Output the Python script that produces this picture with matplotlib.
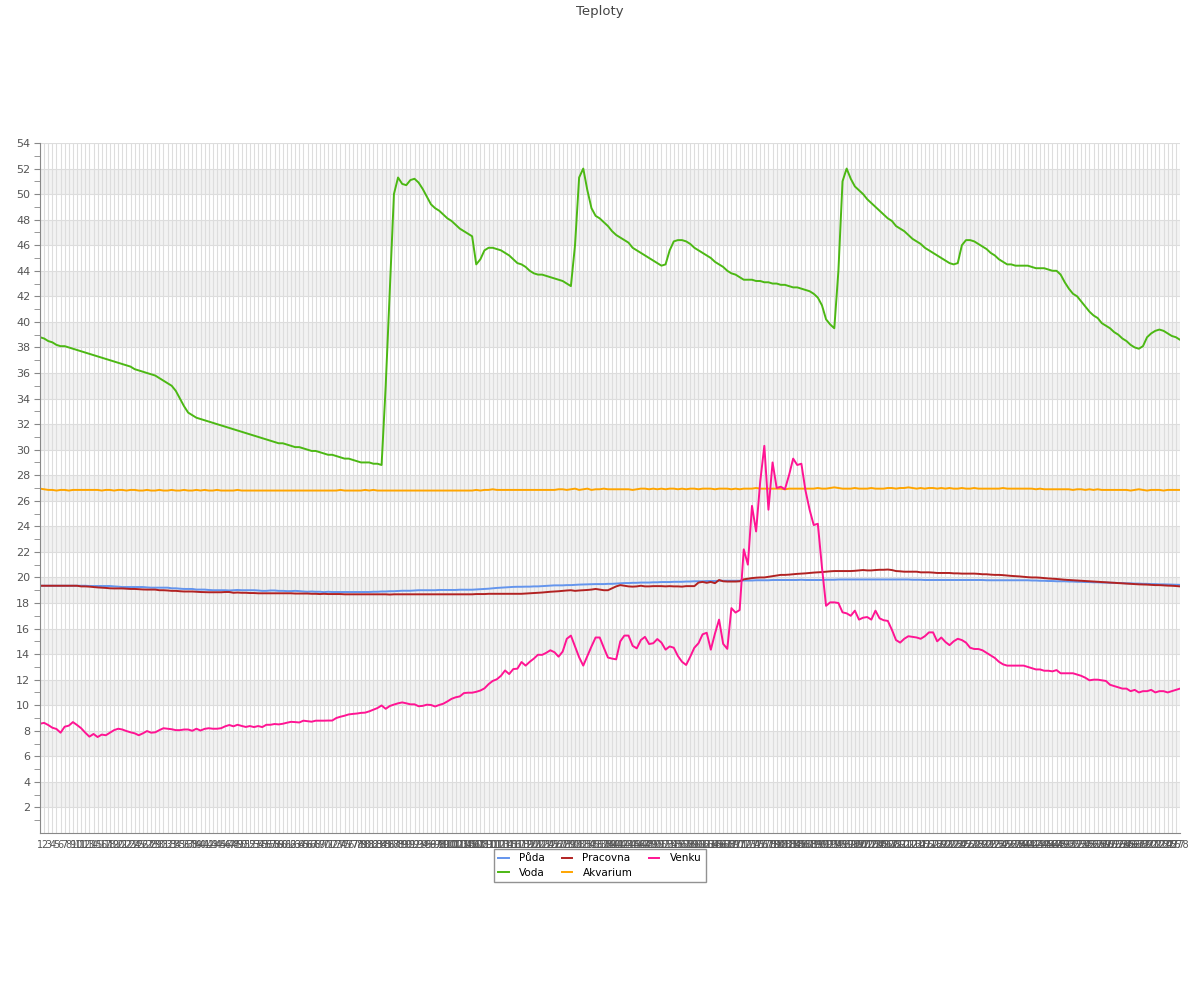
import matplotlib.pyplot as plt
import numpy as np

# labels on the x axis (one per reading)
labels = [str(i) for i in range(1, 279)]

puda = [
    19.35, 19.35, 19.35, 19.35, 19.35, 19.35, 19.35, 19.35, 19.35, 19.35,
    19.35, 19.35, 19.33, 19.33, 19.33, 19.33, 19.33, 19.33, 19.3, 19.28,
    19.25, 19.25, 19.25, 19.25, 19.25, 19.25, 19.22, 19.2, 19.2, 19.2,
    19.2, 19.2, 19.15, 19.15, 19.12, 19.1, 19.1, 19.1, 19.05, 19.05,
    19.05, 19.02, 19.0, 19.0, 19.0, 19.0, 18.98, 19.0, 19.02, 19.0,
    19.0, 19.0, 19.0, 18.98, 18.95, 18.95, 18.98, 18.98, 18.95, 18.95,
    18.93, 18.93, 18.95, 18.93, 18.9, 18.88, 18.9, 18.88, 18.88, 18.85,
    18.88, 18.86, 18.86, 18.86, 18.86, 18.86, 18.86, 18.86, 18.86, 18.86,
    18.86, 18.88, 18.88, 18.9, 18.9, 18.92, 18.92, 18.94, 18.96, 18.96,
    18.96, 18.98, 19.0, 19.0, 19.0, 19.0, 19.0, 19.02, 19.02, 19.02,
    19.02, 19.02, 19.04, 19.04, 19.04, 19.04, 19.06, 19.08, 19.1, 19.12,
    19.15, 19.18, 19.2, 19.22, 19.24, 19.26, 19.27, 19.27, 19.28, 19.28,
    19.3, 19.3, 19.32, 19.34, 19.36, 19.38, 19.38, 19.38, 19.4, 19.4,
    19.42, 19.44, 19.45, 19.46, 19.47, 19.48, 19.48, 19.48, 19.5, 19.5,
    19.52, 19.54, 19.56, 19.56, 19.58, 19.58, 19.6, 19.6, 19.6, 19.62,
    19.62, 19.64, 19.64, 19.64, 19.66, 19.66, 19.66, 19.68, 19.68, 19.7,
    19.7, 19.7, 19.72, 19.72, 19.72, 19.74, 19.74, 19.74, 19.74, 19.74,
    19.74, 19.76, 19.76, 19.76, 19.78, 19.78, 19.78, 19.78, 19.8, 19.8,
    19.8, 19.8, 19.8, 19.8, 19.8, 19.82, 19.8, 19.8, 19.8, 19.8,
    19.8, 19.82, 19.82, 19.82, 19.84, 19.84, 19.84, 19.84, 19.84, 19.84,
    19.84, 19.84, 19.84, 19.84, 19.84, 19.84, 19.84, 19.84, 19.84, 19.84,
    19.84, 19.84, 19.82, 19.82, 19.82, 19.8, 19.8, 19.8, 19.8, 19.8,
    19.8, 19.8, 19.8, 19.8, 19.8, 19.8, 19.8, 19.8, 19.8, 19.8,
    19.78, 19.78, 19.78, 19.78, 19.78, 19.78, 19.78, 19.78, 19.78, 19.78,
    19.78, 19.76, 19.76, 19.74, 19.74, 19.72, 19.72, 19.7, 19.7, 19.7,
    19.68, 19.68, 19.66, 19.66, 19.64, 19.64, 19.62, 19.62, 19.6, 19.6,
    19.58, 19.58, 19.56, 19.56, 19.54, 19.54, 19.52, 19.52, 19.5, 19.5,
    19.48, 19.48, 19.46, 19.46, 19.45, 19.44, 19.43, 19.42,
]

voda = [
    38.8, 38.7, 38.5, 38.4, 38.2, 38.1, 38.1, 38.0, 37.9, 37.8,
    37.7, 37.6, 37.5, 37.4, 37.3, 37.2, 37.1, 37.0, 36.9, 36.8,
    36.7, 36.6, 36.5, 36.3, 36.2, 36.1, 36.0, 35.9, 35.8, 35.6,
    35.4, 35.2, 35.0, 34.6, 34.0, 33.4, 32.9, 32.7, 32.5, 32.4,
    32.3, 32.2, 32.1, 32.0, 31.9, 31.8, 31.7, 31.6, 31.5, 31.4,
    31.3, 31.2, 31.1, 31.0, 30.9, 30.8, 30.7, 30.6, 30.5, 30.5,
    30.4, 30.3, 30.2, 30.2, 30.1, 30.0, 29.9, 29.9, 29.8, 29.7,
    29.6, 29.6, 29.5, 29.4, 29.3, 29.3, 29.2, 29.1, 29.0, 29.0,
    29.0, 28.9, 28.9, 28.8, 35.0, 42.5, 50.0, 51.3, 50.8, 50.7,
    51.1, 51.2, 50.9, 50.4, 49.8, 49.2, 48.9, 48.7, 48.4, 48.1,
    47.9, 47.6, 47.3, 47.1, 46.9, 46.7, 44.5, 44.9, 45.6, 45.8,
    45.8, 45.7, 45.6, 45.4, 45.2, 44.9, 44.6, 44.5, 44.3, 44.0,
    43.8, 43.7, 43.7, 43.6, 43.5, 43.4, 43.3, 43.2, 43.0, 42.8,
    46.0, 51.3, 52.0, 50.3, 48.9, 48.3, 48.1, 47.8, 47.5, 47.1,
    46.8, 46.6, 46.4, 46.2, 45.8, 45.6, 45.4, 45.2, 45.0, 44.8,
    44.6, 44.4, 44.5, 45.6, 46.3, 46.4, 46.4, 46.3, 46.1, 45.8,
    45.6, 45.4, 45.2, 45.0, 44.7, 44.5, 44.3, 44.0, 43.8, 43.7,
    43.5, 43.3, 43.3, 43.3, 43.2, 43.2, 43.1, 43.1, 43.0, 43.0,
    42.9, 42.9, 42.8, 42.7, 42.7, 42.6, 42.5, 42.4, 42.2, 41.9,
    41.3, 40.2, 39.8, 39.5, 44.0, 51.0, 52.0, 51.2, 50.6, 50.3,
    50.0, 49.6, 49.3, 49.0, 48.7, 48.4, 48.1, 47.9, 47.5, 47.3,
    47.1, 46.8, 46.5, 46.3, 46.1, 45.8, 45.6, 45.4, 45.2, 45.0,
    44.8, 44.6, 44.5, 44.6, 46.0, 46.4, 46.4, 46.3, 46.1, 45.9,
    45.7, 45.4, 45.2, 44.9, 44.7, 44.5, 44.5, 44.4, 44.4, 44.4,
    44.4, 44.3, 44.2, 44.2, 44.2, 44.1, 44.0, 44.0, 43.7, 43.1,
    42.6, 42.2, 42.0, 41.6, 41.2, 40.8, 40.5, 40.3, 39.9, 39.7,
    39.5, 39.2, 39.0, 38.7, 38.5, 38.2, 38.0, 37.9, 38.1, 38.8,
    39.1, 39.3, 39.4, 39.3, 39.1, 38.9, 38.8, 38.6,
]

pracovna = [
    19.35, 19.35, 19.35, 19.35, 19.35, 19.35, 19.35, 19.35, 19.35, 19.35,
    19.3, 19.3, 19.28, 19.25, 19.22, 19.2, 19.18, 19.15, 19.14, 19.14,
    19.14, 19.12, 19.1, 19.1, 19.08, 19.06, 19.05, 19.05, 19.05, 19.0,
    19.0, 18.98, 18.95, 18.95, 18.92, 18.9, 18.9, 18.9, 18.88, 18.86,
    18.85, 18.84, 18.84, 18.84, 18.84, 18.86, 18.86, 18.8, 18.82, 18.8,
    18.8, 18.78, 18.78, 18.76, 18.76, 18.76, 18.76, 18.76, 18.76, 18.76,
    18.76, 18.76, 18.74, 18.74, 18.74, 18.74, 18.72, 18.72, 18.7, 18.72,
    18.7, 18.7, 18.7, 18.7, 18.68, 18.68, 18.68, 18.68, 18.68, 18.68,
    18.68, 18.68, 18.68, 18.68, 18.68, 18.66, 18.68, 18.68, 18.68, 18.68,
    18.68, 18.68, 18.68, 18.68, 18.68, 18.68, 18.68, 18.68, 18.68, 18.68,
    18.68, 18.68, 18.68, 18.68, 18.68, 18.68, 18.7, 18.7, 18.7, 18.72,
    18.72, 18.72, 18.72, 18.72, 18.72, 18.72, 18.72, 18.72, 18.74, 18.76,
    18.78, 18.8, 18.82, 18.85, 18.88, 18.9, 18.92, 18.95, 18.98, 19.0,
    18.95, 18.98, 19.0, 19.02, 19.05, 19.1, 19.05, 19.0, 19.0, 19.15,
    19.3, 19.4, 19.35, 19.3, 19.28, 19.3, 19.35, 19.3, 19.3, 19.32,
    19.32, 19.32, 19.3, 19.32, 19.3, 19.3, 19.28, 19.32, 19.32, 19.32,
    19.6, 19.65, 19.58, 19.65, 19.55, 19.8, 19.7, 19.68, 19.68, 19.68,
    19.7, 19.85, 19.9, 19.95, 19.98, 20.0, 20.0, 20.05, 20.1, 20.15,
    20.2, 20.2, 20.22, 20.25, 20.28, 20.3, 20.32, 20.35, 20.38, 20.4,
    20.42, 20.45, 20.48, 20.5, 20.5, 20.5, 20.5, 20.5, 20.52, 20.55,
    20.58, 20.55, 20.55, 20.58, 20.6, 20.6, 20.62, 20.58, 20.5, 20.48,
    20.45, 20.45, 20.45, 20.45, 20.4, 20.4, 20.4, 20.38, 20.35, 20.35,
    20.35, 20.35, 20.32, 20.32, 20.3, 20.3, 20.3, 20.3, 20.28, 20.25,
    20.25, 20.22, 20.2, 20.2, 20.18, 20.15, 20.12, 20.1, 20.08, 20.05,
    20.02, 20.0, 20.0, 19.98, 19.95, 19.92, 19.9, 19.88, 19.85, 19.82,
    19.8, 19.78, 19.76, 19.74, 19.72, 19.7, 19.68, 19.66, 19.64, 19.62,
    19.6, 19.58, 19.56, 19.54, 19.52, 19.5, 19.48, 19.46, 19.45, 19.44,
    19.42, 19.4, 19.4, 19.38, 19.36, 19.35, 19.33, 19.3,
]

akvarium = [
    26.95, 26.9, 26.85, 26.85, 26.8, 26.85, 26.85, 26.8, 26.85, 26.85,
    26.85, 26.85, 26.85, 26.85, 26.85, 26.8, 26.85, 26.85, 26.8, 26.85,
    26.85, 26.8, 26.85, 26.85, 26.8, 26.8, 26.85, 26.8, 26.8, 26.85,
    26.8, 26.8, 26.85, 26.8, 26.8, 26.85, 26.8, 26.8, 26.85, 26.8,
    26.85, 26.8, 26.8, 26.85, 26.8, 26.8, 26.8, 26.8, 26.85, 26.8,
    26.8, 26.8, 26.8, 26.8, 26.8, 26.8, 26.8, 26.8, 26.8, 26.8,
    26.8, 26.8, 26.8, 26.8, 26.8, 26.8, 26.8, 26.8, 26.8, 26.8,
    26.8, 26.8, 26.8, 26.85, 26.8, 26.8, 26.8, 26.8, 26.8, 26.85,
    26.8, 26.85, 26.8, 26.8, 26.8, 26.8, 26.8, 26.8, 26.8, 26.8,
    26.8, 26.8, 26.8, 26.8, 26.8, 26.8, 26.8, 26.8, 26.8, 26.8,
    26.8, 26.8, 26.8, 26.8, 26.8, 26.8, 26.85, 26.8, 26.85, 26.85,
    26.9, 26.85, 26.85, 26.85, 26.85, 26.85, 26.85, 26.85, 26.85, 26.85,
    26.85, 26.85, 26.85, 26.85, 26.85, 26.85, 26.9, 26.9, 26.85, 26.9,
    26.95, 26.85, 26.9, 26.95, 26.85, 26.9, 26.9, 26.95, 26.9, 26.9,
    26.9, 26.9, 26.9, 26.9, 26.85, 26.9, 26.95, 26.95, 26.9, 26.95,
    26.9, 26.95, 26.9, 26.95, 26.95, 26.9, 26.95, 26.9, 26.95, 26.95,
    26.9, 26.95, 26.95, 26.95, 26.9, 26.95, 26.95, 26.95, 26.9, 26.95,
    26.9, 26.95, 26.95, 26.95, 27.0, 26.95, 26.95, 26.95, 26.95, 26.95,
    26.95, 26.9, 26.95, 26.95, 26.95, 26.95, 26.95, 26.95, 26.95, 27.0,
    26.95, 26.95, 27.0, 27.05, 27.0, 26.95, 26.95, 26.95, 27.0, 26.95,
    26.95, 26.95, 27.0, 26.95, 26.95, 26.95, 27.0, 27.0, 26.95, 27.0,
    27.0, 27.05, 27.0, 26.95, 27.0, 26.95, 27.0, 27.0, 26.95, 27.0,
    26.95, 27.0, 26.95, 26.95, 27.0, 26.95, 26.95, 27.0, 26.95, 26.95,
    26.95, 26.95, 26.95, 26.95, 27.0, 26.95, 26.95, 26.95, 26.95, 26.95,
    26.95, 26.95, 26.9, 26.95, 26.9, 26.9, 26.9, 26.9, 26.9, 26.9,
    26.9, 26.85, 26.9, 26.9, 26.85, 26.9, 26.85, 26.9, 26.85, 26.85,
    26.85, 26.85, 26.85, 26.85, 26.85, 26.8, 26.85, 26.9, 26.85, 26.8,
    26.85, 26.85, 26.85, 26.8, 26.85, 26.85, 26.85, 26.85,
]

venku = [
    8.55, 8.62, 8.45, 8.24, 8.14, 7.85, 8.32, 8.4, 8.68, 8.45,
    8.2, 7.85, 7.54, 7.75, 7.51, 7.7, 7.65, 7.85, 8.05, 8.16,
    8.1, 7.98, 7.88, 7.8, 7.65, 7.8, 7.98, 7.85, 7.88, 8.05,
    8.2, 8.16, 8.12, 8.05, 8.05, 8.1, 8.1, 8.0, 8.16, 8.02,
    8.15, 8.2, 8.16, 8.16, 8.2, 8.35, 8.45, 8.35, 8.47, 8.38,
    8.3, 8.37, 8.29, 8.37, 8.29, 8.47, 8.47, 8.53, 8.5, 8.55,
    8.63, 8.7, 8.68, 8.65, 8.79, 8.75, 8.71, 8.79, 8.79, 8.79,
    8.8, 8.8, 9.0, 9.1, 9.18, 9.28, 9.32, 9.35, 9.4, 9.42,
    9.52, 9.65, 9.78, 9.98, 9.72, 9.94, 10.05, 10.15, 10.22, 10.15,
    10.07, 10.07, 9.92, 9.95, 10.04, 10.02, 9.9, 10.02, 10.12, 10.3,
    10.5, 10.62, 10.69, 10.95, 10.98, 10.98, 11.05, 11.15, 11.32, 11.65,
    11.9, 12.03, 12.3, 12.72, 12.44, 12.83, 12.86, 13.38, 13.1, 13.4,
    13.65, 13.95, 13.94, 14.1, 14.3, 14.15, 13.8, 14.2, 15.2, 15.45,
    14.6, 13.75, 13.1, 13.85, 14.6, 15.3, 15.3, 14.5, 13.73, 13.65,
    13.59, 15.0, 15.45, 15.45, 14.65, 14.45, 15.1, 15.35, 14.79, 14.85,
    15.18, 14.9, 14.35, 14.6, 14.5, 13.85, 13.4, 13.15, 13.8, 14.5,
    14.85, 15.55, 15.67, 14.35, 15.6, 16.7, 14.8, 14.41, 17.6, 17.25,
    17.45, 22.2, 21.0, 25.6, 23.6, 27.5, 30.3, 25.3, 29.0, 27.0,
    27.1, 26.9, 28.0, 29.3, 28.8, 28.9, 26.8, 25.3, 24.1, 24.2,
    20.8, 17.78, 18.05, 18.05, 18.0, 17.27, 17.19, 17.0, 17.4, 16.7,
    16.85, 16.9, 16.7, 17.4, 16.8, 16.65, 16.6, 15.9, 15.1, 14.9,
    15.2, 15.4, 15.35, 15.3, 15.2, 15.4, 15.7, 15.7, 15.0, 15.3,
    14.95, 14.7, 15.0, 15.2, 15.1, 14.9, 14.5, 14.4, 14.4, 14.3,
    14.1, 13.9, 13.7, 13.4, 13.2, 13.1, 13.1, 13.1, 13.1, 13.1,
    13.0, 12.9, 12.8, 12.8, 12.7, 12.7, 12.65, 12.75, 12.5, 12.5,
    12.5, 12.5, 12.4, 12.3, 12.15, 11.95, 12.0, 12.0, 11.95, 11.9,
    11.6, 11.5, 11.4, 11.3, 11.3, 11.1, 11.2, 11.0, 11.1, 11.1,
    11.2, 11.0, 11.1, 11.1, 11.0, 11.1, 11.2, 11.3,
]

series = [
    ("Půda", puda, "#6495ED"),
    ("Voda", voda, "#4cb814"),
    ("Pracovna", pracovna, "#b22222"),
    ("Akvarium", akvarium, "#ffa500"),
    ("Venku", venku, "#ff1493"),
]

x = np.arange(len(labels))

fig = plt.figure(figsize=(12, 10), dpi=100)
ax = fig.add_axes([40 / 1200, 1 - 833 / 1000, 1140 / 1200, 690 / 1000])

# alternating bands
for lo in range(2, 54, 4):
    ax.axhspan(lo, lo + 2, color="#f2f2f2", zorder=0, lw=0)
for v in range(2, 55, 2):
    ax.axhline(v, color="#dddddd", lw=0.8, zorder=0.5)
for xi in x:
    ax.axvline(xi, color="#dddddd", lw=0.8, zorder=0.5)

for name, vals, col in series:
    ax.plot(x, vals, color=col, lw=1.4, label=name, zorder=2)

ax.set_xlim(0, len(labels) - 1)
ax.set_ylim(0, 54)
ax.set_yticks(range(2, 55, 2))
ax.set_yticks(range(1, 54, 2), minor=True)
ax.set_xticks(x)
ax.set_xticklabels(labels, fontsize=7, color="#555555")
ax.tick_params(axis="x", length=0, pad=5)
ax.tick_params(axis="y", which="both", length=4, color="#888888", labelsize=8,
               labelcolor="#555555", pad=3)

for s in ["top", "right"]:
    ax.spines[s].set_visible(False)
for s in ["left", "bottom"]:
    ax.spines[s].set_color("#888888")

fig.suptitle("Teploty", y=0.995, fontsize=9.5, color="#444444")

leg = fig.legend(loc="upper center", bbox_to_anchor=(0.5, 0.151), ncol=3,
                 fontsize=7.5, frameon=True, fancybox=False, handlelength=1.0,
                 columnspacing=1.6, borderpad=0.4, labelspacing=0.45,
                 handletextpad=1.0, borderaxespad=0)
leg.get_frame().set_edgecolor("#777777")
leg.get_frame().set_linewidth(1.0)

fig.savefig("out.png", dpi=100)
